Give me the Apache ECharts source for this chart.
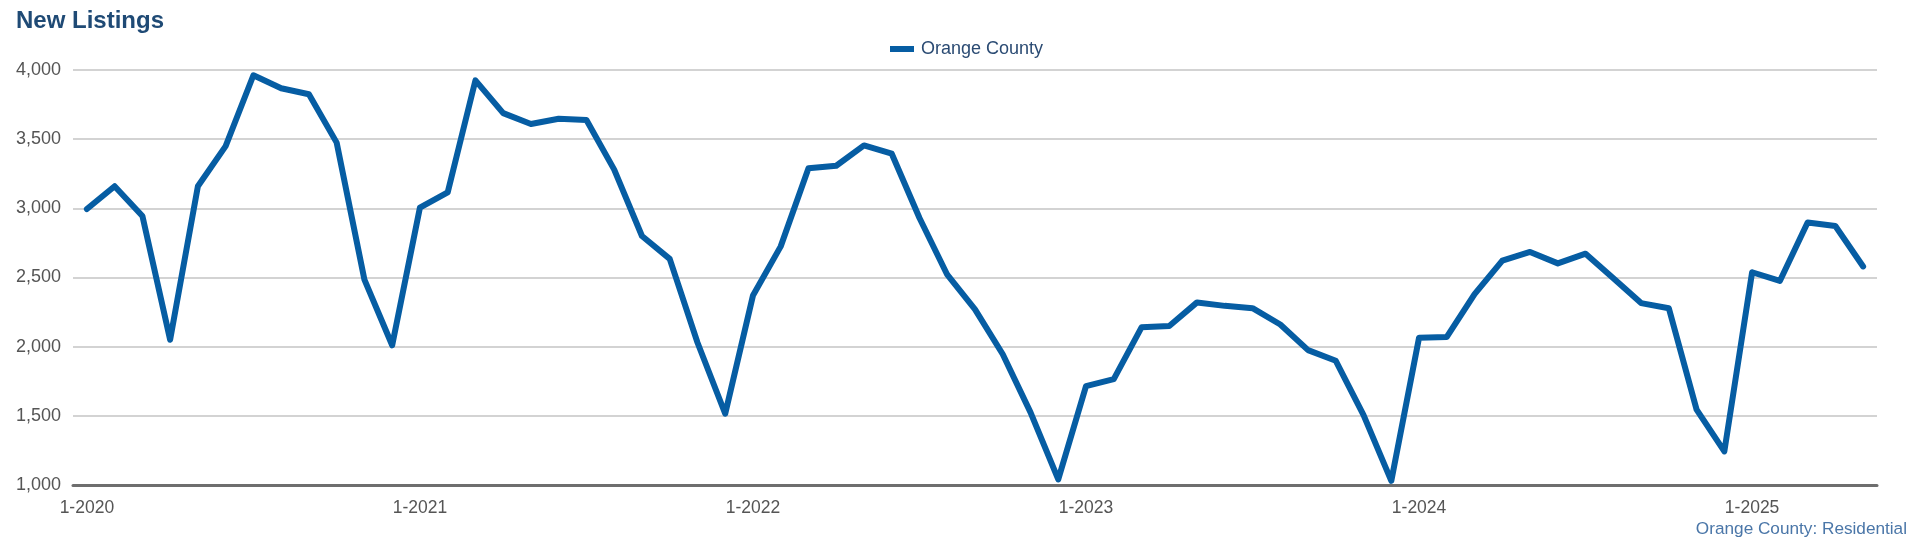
<!DOCTYPE html>
<html>
<head>
<meta charset="utf-8">
<script src="https://cdn.jsdelivr.net/npm/echarts@6/dist/echarts.min.js"></script>
<style>
html,body{margin:0;padding:0;background:#fff;}
#chart{width:1920px;height:551px;}
</style>
</head>
<body>
<div id="chart"></div>
<script>
const months = [
  "1-2020","2-2020","3-2020","4-2020","5-2020","6-2020","7-2020","8-2020","9-2020","10-2020","11-2020","12-2020",
  "1-2021","2-2021","3-2021","4-2021","5-2021","6-2021","7-2021","8-2021","9-2021","10-2021","11-2021","12-2021",
  "1-2022","2-2022","3-2022","4-2022","5-2022","6-2022","7-2022","8-2022","9-2022","10-2022","11-2022","12-2022",
  "1-2023","2-2023","3-2023","4-2023","5-2023","6-2023","7-2023","8-2023","9-2023","10-2023","11-2023","12-2023",
  "1-2024","2-2024","3-2024","4-2024","5-2024","6-2024","7-2024","8-2024","9-2024","10-2024","11-2024","12-2024",
  "1-2025","2-2025","3-2025","4-2025","5-2025"
];
const orangeCounty = [
  2995, 3160, 2945, 2050, 3160, 3450, 3962, 3868, 3825, 3475, 2485, 2010,
  3005, 3115, 3925, 3688, 3610, 3648, 3638, 3280, 2800, 2635, 2030, 1515,
  2370, 2725, 3290, 3308, 3455, 3395, 2930, 2520, 2270, 1945, 1525, 1040,
  1715, 1765, 2140, 2150, 2320, 2295, 2278, 2160, 1975, 1898, 1505, 1030,
  2065, 2070, 2380, 2622, 2685, 2602, 2672, 2495, 2315, 2278, 1545, 1243,
  2538, 2475, 2898, 2872, 2580
];
const seriesName = "Orange County";
const chartTitle = "New Listings";
const footerText = "Orange County: Residential";

const chart = echarts.init(document.getElementById('chart'), null, {renderer: 'canvas'});
chart.setOption({
  animation: false,
  backgroundColor: '#ffffff',
  title: {
    text: chartTitle,
    left: 16, top: 9, padding: 0,
    textStyle: {fontFamily: 'Liberation Sans, Arial, sans-serif', fontSize: 24, fontWeight: 'bold', color: '#1f4a75'}
  },
  legend: {
    data: [seriesName],
    left: 890, top: 40, padding: 0,
    icon: 'rect', itemWidth: 24, itemHeight: 6, itemGap: 10,
    textStyle: {fontFamily: 'Liberation Sans, Arial, sans-serif', fontSize: 18, color: '#2b4b73', padding: [0,0,0,2]}
  },
  grid: {left: 73, right: 43, top: 70, bottom: 66, containLabel: false},
  xAxis: {
    type: 'category',
    data: months,
    boundaryGap: true,
    axisLine: {lineStyle: {color: '#6e6e6e', width: 3}},
    axisTick: {alignWithLabel: true, length: 8, lineStyle: {color: '#6e6e6e', width: 2}, interval: (i) => i % 12 === 0},
    axisLabel: {
      interval: (i) => i % 12 === 0, margin: 14,
      alignMinLabel: 'center', alignMaxLabel: 'center', hideOverlap: false,
      fontFamily: 'Liberation Sans, Arial, sans-serif', fontSize: 17.5, color: '#555555'
    },
    splitLine: {show: false}
  },
  yAxis: {
    type: 'value',
    min: 1000, max: 4000, interval: 500,
    axisLine: {show: false},
    axisTick: {show: false},
    axisLabel: {
      margin: 12, fontFamily: 'Liberation Sans, Arial, sans-serif', fontSize: 18, color: '#555555',
      formatter: (v) => v.toLocaleString('en-US')
    },
    splitLine: {lineStyle: {color: '#c4c4c4', width: 1.5}}
  },
  series: [{
    name: seriesName,
    type: 'line',
    data: orangeCounty,
    showSymbol: false,
    symbol: 'none',
    lineStyle: {color: '#065da3', width: 6, join: 'round', cap: 'round'},
    itemStyle: {color: '#065da3'}
  }],
  graphic: [{
    type: 'text',
    right: 13, top: 521,
    style: {text: footerText, fontFamily: 'Liberation Sans, Arial, sans-serif', fontSize: 17.2, fill: '#4a76a8'}
  }]
});
</script>
</body>
</html>
